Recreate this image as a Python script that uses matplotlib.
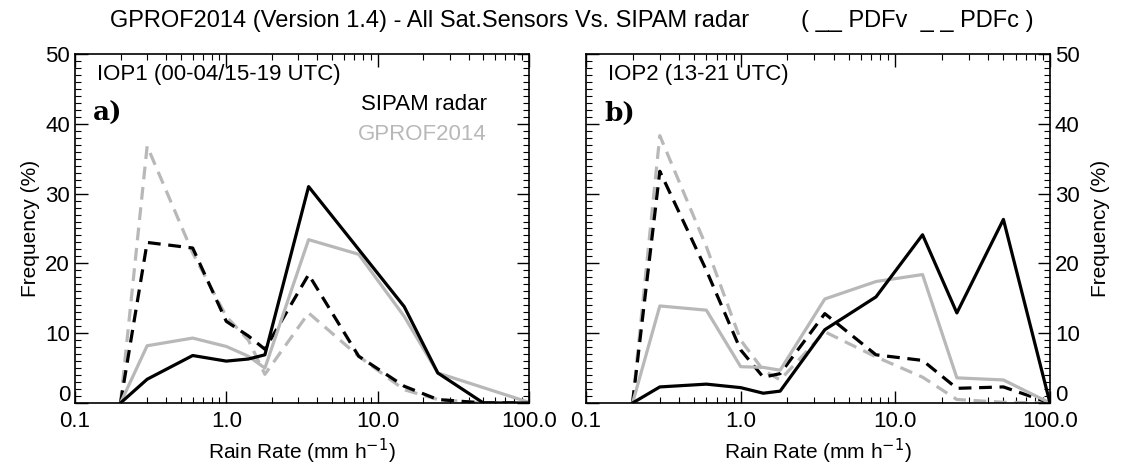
import matplotlib
matplotlib.use("Agg")
import matplotlib.pyplot as plt
import matplotlib.transforms as mtransforms
from matplotlib.ticker import FixedLocator, MultipleLocator, LogLocator, NullFormatter

plt.rcParams['font.family'] = ['Liberation Sans', 'DejaVu Sans']

# rain-rate bins (mm/h)
rain_rate = [0.2, 0.3, 0.6, 1.0, 1.4, 1.8, 3.5, 7.5, 15, 25, 50, 100]

# IOP1
iop1_radar_pdfv = [0, 3.4, 6.8, 6.0, 6.3, 6.9, 31.0, 22.0, 13.8, 4.3, 0, 0]
iop1_gprof_pdfv = [0, 8.2, 9.3, 8.1, 6.7, 5.0, 23.4, 21.3, 12.4, 4.3, 2.2, 0.1]
iop1_radar_pdfc = [0, 23.0, 22.2, 11.7, 9.6, 7.7, 18.4, 6.7, 2.4, 0.5, 0, 0]
iop1_gprof_pdfc = [0, 36.8, 21.5, 12.4, 9.0, 4.1, 12.9, 6.7, 1.9, 0.5, 0, 0]

# IOP2
iop2_radar_pdfv = [0, 2.3, 2.7, 2.2, 1.4, 1.7, 10.5, 15.2, 24.1, 12.9, 26.3, 0]
iop2_gprof_pdfv = [0, 13.9, 13.3, 5.2, 5.1, 4.7, 14.9, 17.4, 18.4, 3.6, 3.3, 0]
iop2_radar_pdfc = [0, 33.2, 19.0, 7.6, 3.7, 4.2, 12.8, 6.9, 6.1, 2.1, 2.3, 0]
iop2_gprof_pdfc = [0, 38.3, 22.4, 9.0, 4.7, 3.3, 10.2, 6.6, 3.7, 0.5, 0.1, 0]

xticks = [0.1, 1.0, 10.0, 100.0]
xtick_labels = ["0.1", "1.0", "10.0", "100.0"]
yticks = [0, 10, 20, 30, 40, 50]

GRAY = "#b8b8b8"
LW = 2.3
DASH = (4, 2.4)

fig = plt.figure(figsize=(11.22, 4.71), dpi=100)
ax_a = fig.add_axes([0.0668, 0.1444, 0.4046, 0.741])
ax_b = fig.add_axes([0.5223, 0.1444, 0.4135, 0.741])

panels = [
    (ax_a, iop1_radar_pdfv, iop1_gprof_pdfv, iop1_radar_pdfc, iop1_gprof_pdfc,
     "IOP1 (00-04/15-19 UTC)", "a)"),
    (ax_b, iop2_radar_pdfv, iop2_gprof_pdfv, iop2_radar_pdfc, iop2_gprof_pdfc,
     "IOP2 (13-21 UTC)", "b)"),
]

for ax, rv, gv, rc, gc, title, tag in panels:
    ax.plot(rain_rate, gc, color=GRAY, lw=LW, dashes=DASH)
    ax.plot(rain_rate, rc, color="black", lw=LW, dashes=DASH)
    ax.plot(rain_rate, gv, color=GRAY, lw=LW)
    ax.plot(rain_rate, rv, color="black", lw=LW)

    ax.set_xscale("log")
    ax.set_xlim(0.1, 100)
    ax.set_ylim(0, 50)
    ax.xaxis.set_major_locator(FixedLocator(xticks))
    ax.set_xticklabels(xtick_labels)
    ax.xaxis.set_minor_locator(LogLocator(base=10, subs=range(2, 10)))
    ax.xaxis.set_minor_formatter(NullFormatter())
    ax.set_yticks(yticks)
    ax.yaxis.set_minor_locator(MultipleLocator(1))
    ax.tick_params(which="both", direction="in", top=True, bottom=True,
                   left=True, right=True, labelsize=16)
    ax.tick_params(which="major", length=9, width=1)
    ax.tick_params(which="minor", length=4, width=0.8)
    ax.tick_params(axis="x", pad=6)
    for sp in ax.spines.values():
        sp.set_linewidth(1.2)
    ax.set_xlabel("Rain Rate (mm h$^{-1}$)", fontsize=15, labelpad=3)
    ax.set_ylabel("Frequency (%)", fontsize=15)

    ax.text(0.048, 0.97, title, transform=ax.transAxes, fontsize=16,
            va="top", ha="left")
    ax.text(0.04, 0.865, tag, transform=ax.transAxes, fontsize=19,
            fontweight="bold", family="DejaVu Serif", va="top", ha="left")

ax_a.text(0.907, 0.885, "SIPAM radar", transform=ax_a.transAxes, fontsize=16,
          color="black", ha="right", va="top")
ax_a.text(0.907, 0.8, "GPROF2014", transform=ax_a.transAxes, fontsize=16,
          color=GRAY, ha="right", va="top")

ax_b.yaxis.tick_right()
ax_b.yaxis.set_label_position("right")
ax_b.tick_params(which="both", left=True, right=True, labelleft=False,
                 labelright=True)
ax_b.yaxis.labelpad = 8

# lift the "0" labels a little, as in the original
lift = mtransforms.ScaledTranslation(0, 7 / 72, fig.dpi_scale_trans)
for ax in (ax_a, ax_b):
    t = ax.yaxis.get_major_ticks()[0]
    for lab in (t.label1, t.label2):
        lab.set_transform(lab.get_transform() + lift)

fig.text(0.383, 0.955, "GPROF2014 (Version 1.4) - All Sat.Sensors Vs. SIPAM radar",
         fontsize=17, ha="center", va="center")
fig.text(0.818, 0.955, "( __ PDFv  _ _ PDFc )", fontsize=17, ha="center",
         va="center")

fig.savefig("out.png", dpi=100)
